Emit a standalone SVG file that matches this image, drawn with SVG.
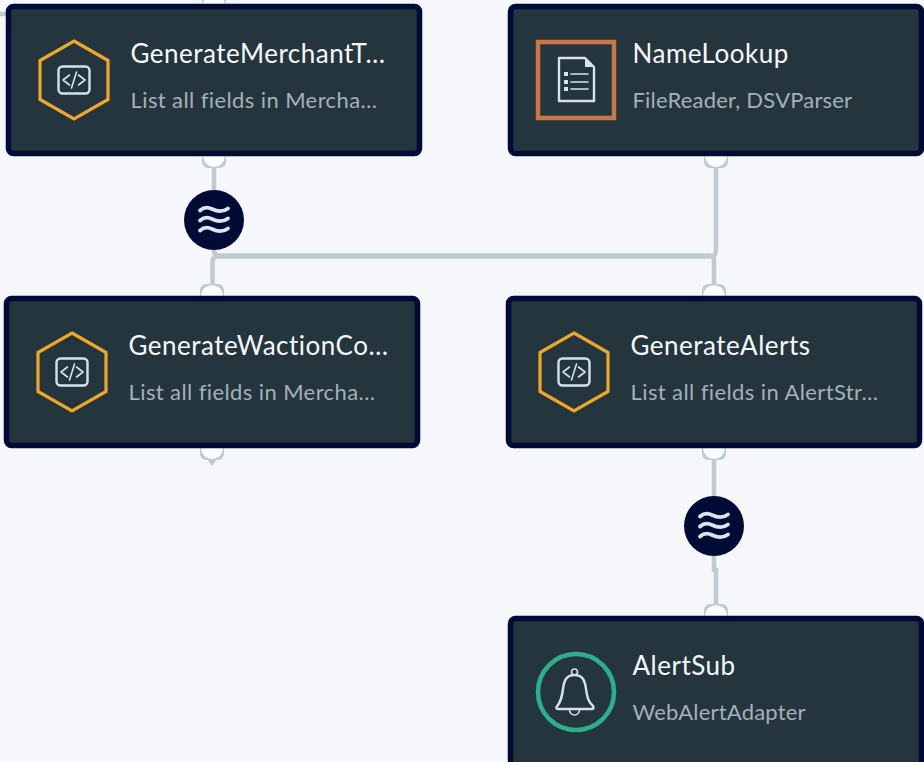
<svg xmlns="http://www.w3.org/2000/svg" width="924" height="762" viewBox="0 0 924 762">
<style>
.card{fill:#25353d;stroke:#020b36;stroke-width:5.5}
.t{font-family:"Lato","Noto Sans",sans-serif;font-size:26px;letter-spacing:.5px;fill:#f5f8fb}
.s{font-family:"Lato","Noto Sans",sans-serif;font-size:22px;letter-spacing:.2px;fill:#a3b1b8}
.l{letter-spacing:.4px}
.w{fill:none;stroke:#c0cbcf;stroke-width:4.500}
.cup{fill:#c0cbcf}
.hole{fill:#fbfcfe}
.hex{fill:none;stroke:#eda72c;stroke-width:3.200}
.ico{fill:none;stroke:#d5e2ea;stroke-width:2.400;stroke-linecap:round;stroke-linejoin:round}
.thin{fill:none;stroke:#d5e2ea;stroke-width:1.600;stroke-linecap:round;stroke-linejoin:round}
.badge{fill:#020b36}
.wave{fill:none;stroke:#dbe6ec;stroke-width:3.800;stroke-linecap:round}
</style>
<defs>
<g id="code"><path class="hex" d="M0-39L34-19.500V19.500L0 39L-34 19.500V-19.500Z"/><rect class="ico" x="-15.500" y="-13.500" width="31" height="27" rx="4"/><path class="thin" d="M-4.500-5L-11 0L-4.500 5M4.500-5L11 0L4.500 5M2.500-8L-2.500 8"/></g>
<g id="waves"><circle class="badge" r="30"/><path class="wave" d="M-14-9.500C-10-13-6-13 -2-11S8-7 14-11.500M-14 .5C-10-3-6-3 -2-1S8 3 14-1.500M-14 10.500C-10 7-6 7 -2 9S8 13 14 8.500"/></g>
<path id="pd" class="cup" d="M-12 0H12V5Q12 12 5 12H-5Q-12 12 -12 5Z"/>
<g id="down"><use href="#pd"/><circle class="hole" r="10.800"/></g>
<g id="up"><use href="#pd" transform="scale(1,-1)"/><circle class="hole" r="10.800"/></g>
</defs>
<rect width="924" height="762" fill="#f5f7fb"/>
<g id="connectors">
<path class="w" d="M214 160V250Q214 255.500 219 255.500H709Q714 255.500 714 261V290"/>
<path class="w" d="M716 160V250Q716 256.500 710 256.500H218Q212.500 256.500 212.500 262V290"/>
<path class="w" d="M0 14H8M212 452V460M714 452V570H716V610"/>
<path class="cup" d="M207 459H217L212 466Z"/>
<use href="#up" x="214" y="4"/>
<use href="#down" x="214" y="156"/>
<use href="#down" x="716" y="156"/>
<use href="#up" x="212" y="296"/>
<use href="#up" x="714" y="296"/>
<use href="#down" x="212" y="448"/>
<use href="#down" x="714" y="448"/>
<use href="#up" x="716" y="616"/>
<use href="#waves" x="214" y="220"/>
<use href="#waves" x="714" y="526"/>
</g>
<g id="node-merchant">
<rect class="card" x="8.500" y="6.500" width="411" height="147" rx="5"/>
<use href="#code" x="74" y="80"/>
<text class="t" x="130.500" y="62.500">GenerateMerchantT…</text>
<text class="s l" x="130.500" y="107.500">List all fields in Mercha…</text>
</g>
<g id="node-namelookup">
<rect class="card" x="510.500" y="6.500" width="411" height="147" rx="5"/>
<rect x="538" y="42" width="76" height="76" fill="none" stroke="#c8754a" stroke-width="4.500"/>
<path class="ico" d="M559 58H585L594 67V101H559Z"/><path d="M585 58L594 67H585Z" fill="#d5e2ea"/>
<path class="thin" d="M571 74H588M571 82H588M571 89H588"/>
<path d="M564 72h4v4h-4zM564 80h4v4h-4zM564 87h4v4h-4z" fill="#d5e2ea"/>
<text class="t" x="632.500" y="62.500">NameLookup</text>
<text class="s" x="632.500" y="107.500">FileReader, DSVParser</text>
</g>
<g id="node-wactioncontext">
<rect class="card" x="6.500" y="298.500" width="411" height="147" rx="5"/>
<use href="#code" x="72" y="372"/>
<text class="t" x="128.500" y="354.500">GenerateWactionCo…</text>
<text class="s l" x="128.500" y="399.500">List all fields in Mercha…</text>
</g>
<g id="node-alerts">
<rect class="card" x="508.500" y="298.500" width="411" height="147" rx="5"/>
<use href="#code" x="574" y="372"/>
<text class="t" x="630.500" y="354.500">GenerateAlerts</text>
<text class="s l" x="630.500" y="399.500">List all fields in AlertStr…</text>
</g>
<g id="node-alertsub">
<rect class="card" x="510.500" y="618.500" width="411" height="147" rx="5"/>
<circle cx="576" cy="692" r="38" fill="none" stroke="#2fae8e" stroke-width="4.500"/>
<path class="ico" d="M574.500 675C566 675 564 681 563 689C562 697 561 702 556.500 707Q556 709 558 709H592Q594.500 708.500 593 706C588 702 587 696 586 689C585 681 583 675 574.500 675Z"/>
<circle class="thin" cx="574.500" cy="672" r="3"/><path class="thin" d="M569.500 710a5 5 0 0 0 10 0"/>
<text class="t" x="632.500" y="674.500">AlertSub</text>
<text class="s" x="632.500" y="719.500">WebAlertAdapter</text>
</g>
</svg>
